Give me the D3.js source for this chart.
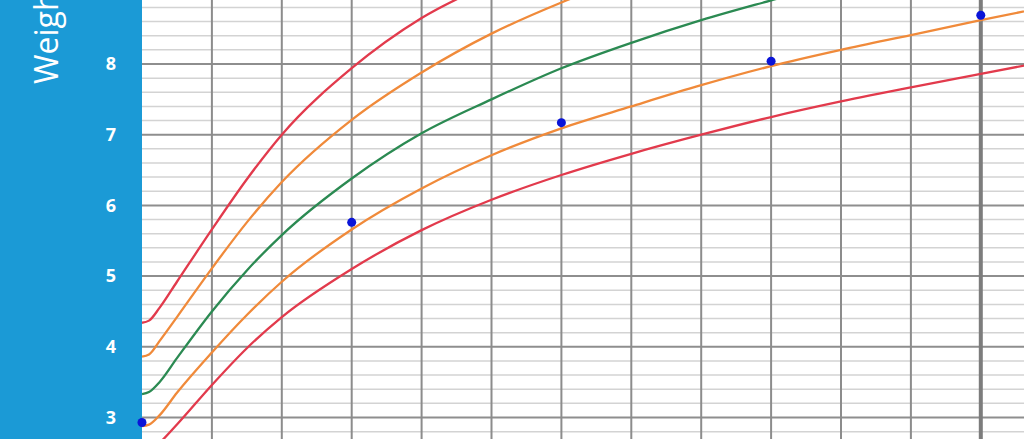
<!DOCTYPE html>
<html>
<head>
<meta charset="utf-8">
<script src="https://cdn.jsdelivr.net/npm/d3@7"></script>
<style>
  html, body { margin: 0; padding: 0; background: #fff; overflow: hidden; }
  svg { display: block; }
</style>
</head>
<body>
<svg id="chart" viewBox="0 0 1024 439" width="1024" height="439"></svg>
<script>
// ages in months, and the WHO-style reference curves (kg)
const ages = [0, 0.1, 0.25, 0.5, 1, 1.5, 2, 3, 4, 5, 6, 7, 8, 9, 10, 11, 12, 13];
const sdPlus2 = [4.34, 4.37, 4.55, 4.92, 5.66, 6.37, 7.0, 7.94, 8.65, 9.15, 9.6, 10.0, 10.4, 10.7, 11.0, 11.4, 11.7, 12.0];
const sdPlus1 = [3.86, 3.89, 4.08, 4.42, 5.11, 5.76, 6.33, 7.21, 7.88, 8.43, 8.87, 9.25, 9.6, 9.9, 10.2, 10.5, 10.8, 11.0];
const median = [3.33, 3.36, 3.5, 3.84, 4.5, 5.08, 5.58, 6.38, 7.02, 7.5, 7.94, 8.3, 8.62, 8.9, 9.17, 9.4, 9.6, 9.8];
const sdMinus1 = [2.88, 2.9, 3.03, 3.35, 3.92, 4.45, 4.92, 5.66, 6.24, 6.71, 7.09, 7.4, 7.7, 7.97, 8.2, 8.41, 8.62, 8.82];
const sdMinus2 = [2.5, 2.52, 2.64, 2.9, 3.46, 3.98, 4.42, 5.1, 5.65, 6.08, 6.43, 6.73, 7.0, 7.25, 7.47, 7.67, 7.86, 8.05];

// child's measurements
const visitAges = [0, 3, 6, 9, 12];
const visitWeights = [2.93, 5.76, 7.17, 8.04, 8.69];

const yTicks = [3, 4, 5, 6, 7, 8];
const axisTitle = "Weight (kg)";

const svg = d3.select("#chart");
const width = 1024, height = 439;
const left = 142;

const x = d3.scaleLinear().domain([0, 12]).range([left, left + 69.9 * 12]);
const y = d3.scaleLinear().domain([3, 8]).range([417.5, 64]);

// grid
const grid = svg.append("g");
const minorVals = d3.range(24, 92, 2).map(v => v / 10).filter(v => Math.abs(v - Math.round(v)) > 0.01);
grid.selectAll(".minor")
    .data(minorVals)
    .enter()
    .append("line")
    .attr("x1", left).attr("x2", width)
    .attr("y1", d => y(d)).attr("y2", d => y(d))
    .attr("stroke", "#d3d3d3")
    .attr("stroke-width", 1.5);

grid.selectAll(".major")
    .data(d3.range(2, 10))
    .enter()
    .append("line")
    .attr("x1", left).attr("x2", width)
    .attr("y1", d => y(d)).attr("y2", d => y(d))
    .attr("stroke", "#8e8e8e")
    .attr("stroke-width", 2);

grid.selectAll(".vert")
    .data(d3.range(1, 14))
    .enter()
    .append("line")
    .attr("x1", d => x(d)).attr("x2", d => x(d))
    .attr("y1", 0).attr("y2", height)
    .attr("stroke", d => d === 12 ? "#7c7c7c" : "#8c8c8c")
    .attr("stroke-width", d => d === 12 ? 4 : 2);

// curves
const curves = [
    { values: sdPlus2, color: "#e23a4c" },
    { values: sdPlus1, color: "#f08a3a" },
    { values: median, color: "#2b8a52" },
    { values: sdMinus1, color: "#f08a3a" },
    { values: sdMinus2, color: "#e23a4c" }
];

const line = d3.line()
    .x(d => x(d[0]))
    .y(d => y(d[1]))
    .curve(d3.curveMonotoneX);

svg.append("g")
    .selectAll("path")
    .data(curves)
    .enter()
    .append("path")
    .attr("d", c => line(ages.map((a, i) => [a, c.values[i]])))
    .attr("fill", "none")
    .attr("stroke", c => c.color)
    .attr("stroke-width", 2.3);

// blue axis band
svg.append("rect")
    .attr("x", 0).attr("y", 0)
    .attr("width", left).attr("height", height)
    .attr("fill", "#1b9ad6");

svg.append("g")
    .selectAll("text")
    .data(yTicks)
    .enter()
    .append("text")
    .attr("x", 111)
    .attr("y", d => y(d))
    .attr("dy", "0.35em")
    .attr("text-anchor", "middle")
    .attr("fill", "#fff")
    .attr("font-family", "'Open Sans', sans-serif")
    .attr("font-weight", "bold")
    .attr("font-size", 18)
    .text(d => d);

svg.append("text")
    .attr("transform", "translate(58, 84) rotate(-90)")
    .attr("fill", "#fff")
    .attr("font-family", "'Open Sans', sans-serif")
    .attr("font-size", 32)
    .text(axisTitle);

// measurement dots
svg.append("g")
    .selectAll("circle")
    .data(visitAges)
    .enter()
    .append("circle")
    .attr("cx", d => x(d))
    .attr("cy", (d, i) => y(visitWeights[i]))
    .attr("r", 4.5)
    .attr("fill", "#0a14d8");
</script>
</body>
</html>
